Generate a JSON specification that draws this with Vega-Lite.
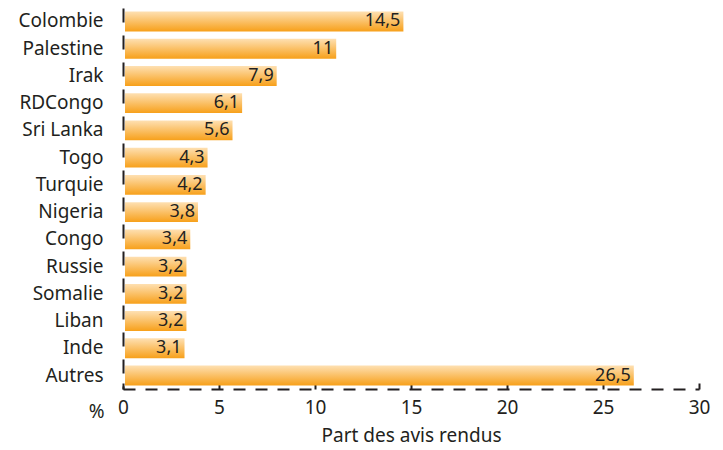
{
  "$schema": "https://vega.github.io/schema/vega-lite/v6.json",
  "autosize": "none",
  "width": 576,
  "height": 381,
  "padding": {"left": 123, "top": 8, "right": 24, "bottom": 61},
  "background": "white",
  "config": {
    "view": {"stroke": null},
    "locale": {"number": {"decimal": ",", "thousands": " ", "grouping": [3], "currency": ["", " €"]}},
    "font": "Noto Sans"
  },
  "data": {
    "values": [
      {"pays": "Colombie", "part": 14.5},
      {"pays": "Palestine", "part": 11},
      {"pays": "Irak", "part": 7.9},
      {"pays": "RDCongo", "part": 6.1},
      {"pays": "Sri Lanka", "part": 5.6},
      {"pays": "Togo", "part": 4.3},
      {"pays": "Turquie", "part": 4.2},
      {"pays": "Nigeria", "part": 3.8},
      {"pays": "Congo", "part": 3.4},
      {"pays": "Russie", "part": 3.2},
      {"pays": "Somalie", "part": 3.2},
      {"pays": "Liban", "part": 3.2},
      {"pays": "Inde", "part": 3.1},
      {"pays": "Autres", "part": 26.5}
    ]
  },
  "encoding": {
    "y": {
      "field": "pays", "type": "nominal", "sort": null,
      "scale": {"paddingInner": 0.27, "paddingOuter": 0.13},
      "axis": {
        "title": "%", "titleAngle": 0, "titleX": -19, "titleY": 403, "titleAlign": "right",
        "titleBaseline": "middle", "titleFontSize": 19, "titleFontWeight": "normal", "titleColor": "#231f20",
        "labelFontSize": 19, "labelColor": "#231f20", "labelPadding": 20,
        "ticks": false, "domainColor": "#231f20", "domainWidth": 2, "domainDash": [14, 13]
      }
    },
    "x": {
      "field": "part", "type": "quantitative",
      "scale": {"domain": [0, 30], "nice": false},
      "axis": {
        "title": "Part des avis rendus", "titleFontSize": 19, "titleFontWeight": "normal", "titleColor": "#231f20",
        "titlePadding": 9,
        "values": [0, 5, 10, 15, 20, 25, 30], "grid": false, "labelFlush": false,
        "labelFontSize": 19, "labelColor": "#231f20", "labelPadding": 15,
        "tickSize": -6, "tickColor": "#231f20", "tickWidth": 2,
        "domainColor": "#231f20", "domainWidth": 2, "domainDash": [12, 10]
      }
    }
  },
  "layer": [
    {
      "mark": {
        "type": "bar", "xOffset": 2,
        "color": {
          "gradient": "linear", "x1": 0, "y1": 0, "x2": 0, "y2": 1,
          "stops": [{"offset": 0, "color": "#fee0b2"}, {"offset": 1, "color": "#f7a01a"}]
        }
      }
    },
    {
      "mark": {"type": "text", "align": "right", "dx": -1, "fontSize": 18, "color": "#231f20", "baseline": "middle"},
      "encoding": {"text": {"field": "part", "type": "quantitative", "format": "~g"}}
    }
  ]
}
